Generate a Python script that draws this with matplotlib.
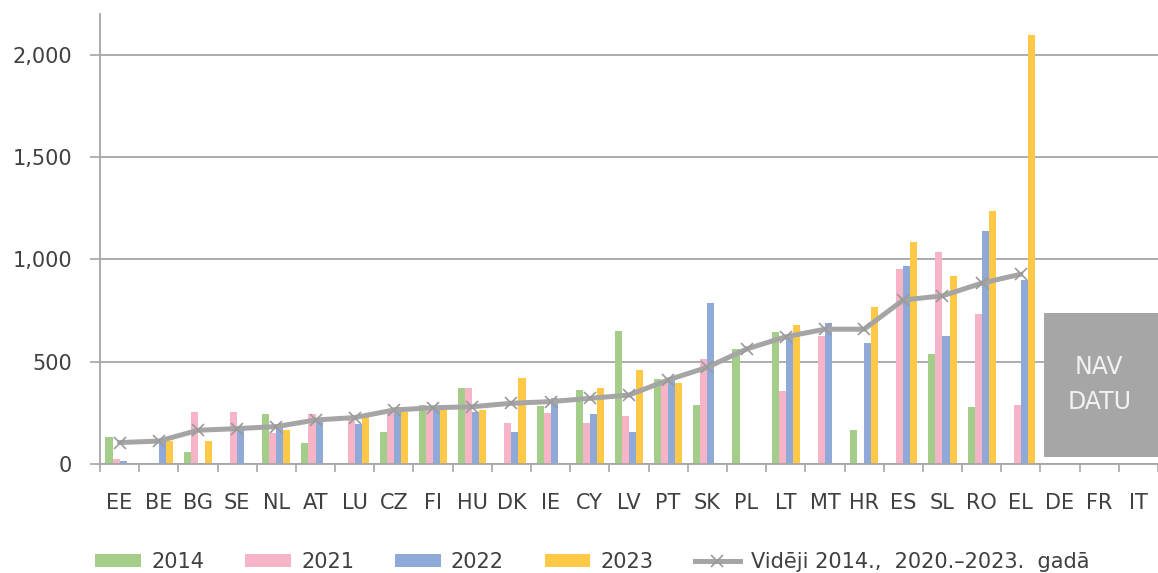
import matplotlib.pyplot as plt
import numpy as np
from matplotlib.patches import Patch, Rectangle
from matplotlib.lines import Line2D
from matplotlib.ticker import FuncFormatter, MultipleLocator

nan = np.nan

countries = ["EE", "BE", "BG", "SE", "NL", "AT", "LU", "CZ", "FI", "HU", "DK", "IE", "CY",
             "LV", "PT", "SK", "PL", "LT", "MT", "HR", "ES", "SL", "RO", "EL", "DE", "FR", "IT"]

v2014 = [131, nan, 60, nan, 246, 104, nan, 158, 288, 370, nan, 284, 362,
         652, 414, 288, 564, 644, nan, 166, nan, 538, 280, nan, nan, nan, nan]
v2021 = [25, nan, 253, 253, 150, 245, 215, 248, 277, 370, 202, 248, 202,
         236, 403, 512, nan, 359, 626, nan, 952, 1035, 732, 289, nan, nan, nan]
v2022 = [17, 112, nan, 166, 174, 215, 194, 280, 269, 256, 158, 324, 246,
         158, 427, 786, nan, 631, 688, 590, 970, 626, 1139, 900, nan, nan, nan]
v2023 = [nan, 112, 112, nan, 166, nan, 231, 256, 264, 264, 422, nan, 370,
         458, 395, nan, nan, 680, nan, 769, 1087, 918, 1236, 2095, nan, nan, nan]

# average line only exists up to EL
avg = [105, 112, 165, 173, 183, 215, 227, 264, 275, 280, 297, 305, 321,
       337, 411, 473, 562, 622, 659, 659, 802, 822, 884, 928]

series = [("2014", v2014, "#a3cd88"),
          ("2021", v2021, "#f8b4c7"),
          ("2022", v2022, "#8fa9d8"),
          ("2023", v2023, "#ffc847")]
avg_label = "Vidēji 2014.,  2020.–2023.  gadā"
no_data = "NAV\nDATU"

grey = "#a6a6a6"
text_col = "#404040"

fig = plt.figure(figsize=(11.58, 5.73), dpi=100)
ax = fig.add_axes([100 / 1158, 109 / 573, 1058 / 1158, 450 / 573])

x = np.arange(len(countries))
w = 0.18
offsets = [-0.27, -0.09, 0.09, 0.27]
for (name, vals, col), off in zip(series, offsets):
    ax.bar(x + off, vals, width=w, color=col, zorder=2)

ax.plot(x[:len(avg)], avg, color="#a5a5a5", linewidth=3.6, marker="x",
        markersize=9, markeredgewidth=1.2, markeredgecolor="#9a9a9a",
        zorder=4, solid_capstyle="round")

# grey box over the countries without data
ax.add_patch(Rectangle((23.59, 36), 2.9, 704, facecolor=grey, edgecolor="none", zorder=5))
ax.text(25.0, 388, no_data, ha="center", va="center", color="#f2f2f2",
        fontsize=17, linespacing=1.55, zorder=6)

ax.set_ylim(0, 2200)
ax.set_xlim(-0.5, -0.5 + 1058 / 39.6)
ax.yaxis.set_major_locator(MultipleLocator(500))
ax.yaxis.set_major_formatter(FuncFormatter(lambda v, p: f"{int(v):,}" if v <= 2000 else ""))
ax.grid(axis="y", color=grey, linewidth=1.3)
ax.set_axisbelow(True)

ax.set_xticks(x)
ax.set_xticklabels(countries)
ax.set_xticks(np.arange(len(countries) + 1) - 0.5, minor=True)
ax.tick_params(axis="x", which="major", length=0, pad=21, labelsize=15, labelcolor=text_col)
ax.tick_params(axis="x", which="minor", length=6, width=1.2, color=grey, direction="out")
ax.tick_params(axis="y", length=7, width=1.2, color=grey, pad=13, labelsize=15,
               labelcolor=text_col)

for s in ["top", "right"]:
    ax.spines[s].set_visible(False)
for s in ["left", "bottom"]:
    ax.spines[s].set_color(grey)
    ax.spines[s].set_linewidth(1.3)

handles = [Patch(facecolor=col, label=name) for name, _, col in series]
handles.append(Line2D([], [], color="#a5a5a5", linewidth=3.6, marker="x", markersize=9,
                      markeredgewidth=1.2, markeredgecolor="#9a9a9a", label=avg_label))
fig.legend(handles=handles, loc="center left", bbox_to_anchor=(95 / 1158, 11 / 573),
           ncol=5, frameon=False, fontsize=15, handlelength=2.2, handleheight=0.6,
           handletextpad=0.5, columnspacing=1.95, borderpad=0, borderaxespad=0,
           labelcolor=text_col)

fig.savefig("out.png", dpi=100)
